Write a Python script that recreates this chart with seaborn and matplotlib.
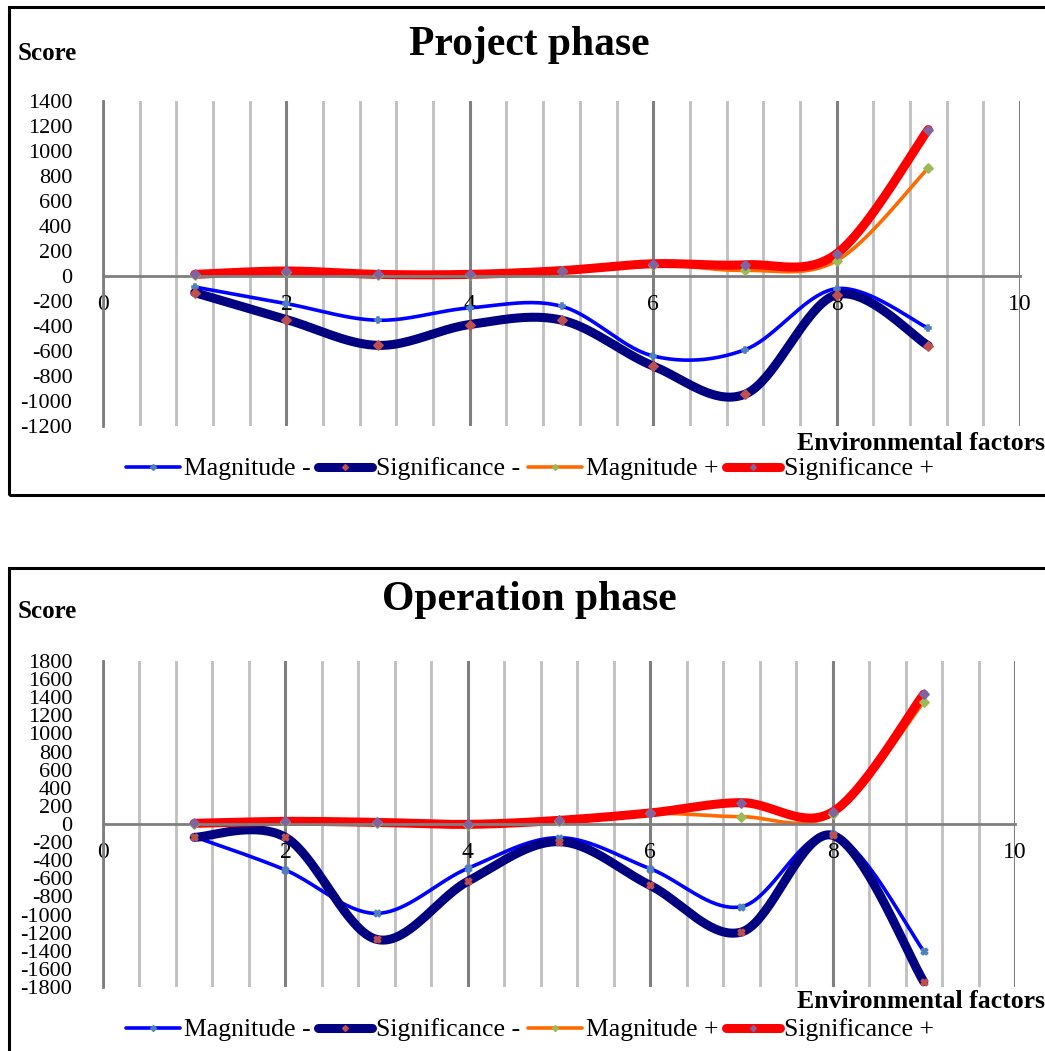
import numpy as np
import pandas as pd
import matplotlib
matplotlib.use("Agg")
import matplotlib.pyplot as plt
from matplotlib.lines import Line2D
from matplotlib.patches import Rectangle
from matplotlib.ticker import MultipleLocator
import seaborn as sns

# environmental factors 1..9
factors = [1, 2, 3, 4, 5, 6, 7, 8, 9]

# project phase
proj_mag_neg = [-88, -221, -354, -255, -242, -640, -590, -101, -417]
proj_sig_neg = [-133, -348, -555, -388, -353, -720, -946, -149, -558]
proj_mag_pos = [10, 35, 10, 10, 38, 92, 45, 122, 864]
proj_sig_pos = [13, 40, 13, 13, 43, 98, 90, 178, 1172]

# operation phase
oper_mag_neg = [-140, -508, -987, -490, -151, -494, -913, -114, -1403]
oper_sig_neg = [-147, -147, -1274, -633, -195, -678, -1193, -125, -1742]
oper_mag_pos = [5, 25, 15, -6, 38, 118, 81, 110, 1348]
oper_sig_pos = [7, 29, 18, -4, 40, 122, 236, 133, 1433]

series_names = ["Magnitude -", "Significance -", "Magnitude +", "Significance +"]
line_colors = ["#0000FF", "#000080", "#FF6A00", "#FF0000"]
line_widths = [2.6, 6.5, 2.6, 6.5]
marker_colors = ["#4F81BD", "#C0504D", "#9BBB59", "#8064A2"]

sns.set_theme(style="white")
plt.rcParams["font.family"] = ["Liberation Serif", "DejaVu Serif"]
plt.rcParams["axes.unicode_minus"] = False
plt.rcParams["text.color"] = "black"
plt.rcParams["xtick.color"] = "black"
plt.rcParams["ytick.color"] = "black"


def smooth(x, y, n=40):
    # excel-like smoothed line (catmull-rom bezier)
    p = np.column_stack([x, y]).astype(float)
    p_ext = np.vstack([p[0], p, p[-1]])
    out = []
    t = np.linspace(0, 1, n)[:, None]
    for i in range(len(p) - 1):
        p0, p1, p2, p3 = p_ext[i], p_ext[i + 1], p_ext[i + 2], p_ext[i + 3]
        c1 = p1 + (p2 - p0) / 6
        c2 = p2 - (p3 - p1) / 6
        seg = ((1 - t) ** 3) * p1 + 3 * ((1 - t) ** 2) * t * c1 + 3 * (1 - t) * t ** 2 * c2 + t ** 3 * p2
        out.append(seg if i == 0 else seg[1:])
    out = np.vstack(out)
    return pd.DataFrame({"x": out[:, 0], "y": out[:, 1]})


def draw_panel(ax, data, ylim, markers):
    for vals, col, lw in zip(data, line_colors, line_widths):
        sns.lineplot(data=smooth(factors, vals), x="x", y="y", sort=False,
                     estimator=None, color=col, linewidth=lw,
                     solid_capstyle="round", ax=ax)
    for vals, mc, mk in zip(data, marker_colors, markers):
        sns.scatterplot(x=factors, y=vals, color=mc, marker=mk, s=22,
                        linewidth=1.2, edgecolor=mc, ax=ax, zorder=5)

    ax.set_xlim(0, 10)
    ax.set_ylim(*ylim)
    ax.yaxis.set_major_locator(MultipleLocator(200))
    ax.xaxis.set_major_locator(MultipleLocator(2))
    ax.xaxis.set_minor_locator(MultipleLocator(0.4))
    ax.grid(axis="x", which="minor", color="#BFBFBF", linewidth=2)
    ax.grid(axis="x", which="major", color="#7F7F7F", linewidth=2.2)
    ax.grid(axis="y", visible=False)
    ax.set_axisbelow(True)
    for s in ["top", "right"]:
        ax.spines[s].set_visible(False)
    ax.spines["bottom"].set_position(("data", 0))
    ax.spines["bottom"].set_color("#7F7F7F")
    ax.spines["bottom"].set_linewidth(2)
    ax.spines["left"].set_color("#7F7F7F")
    ax.spines["left"].set_linewidth(2)
    ax.tick_params(axis="both", which="both", length=0)
    ax.tick_params(axis="x", pad=13, labelsize=17)
    ax.tick_params(axis="y", pad=22, labelsize=16)
    ax.set_xlabel("")
    ax.set_ylabel("")
    ax.patch.set_alpha(0)


fig = plt.figure(figsize=(10.45, 10.51), dpi=100)
W, H = 1045, 1051

# panel frames
fig.patches.append(Rectangle((9 / W, 1 - 495 / H), 1.2, 488 / H, transform=fig.transFigure,
                             fill=False, edgecolor="black", linewidth=2.2))
fig.patches.append(Rectangle((9 / W, -0.1), 1.2, 0.1 + 1 - 568 / H, transform=fig.transFigure,
                             fill=False, edgecolor="black", linewidth=2.2))

ax1 = fig.add_axes([103 / W, 1 - 426 / H, 917 / W, 325 / H])
draw_panel(ax1, [proj_mag_neg, proj_sig_neg, proj_mag_pos, proj_sig_pos],
           (-1200, 1400), ["P", "D", "D", "D"])

ax2 = fig.add_axes([103 / W, 1 - 987 / H, 912 / W, 326 / H])
draw_panel(ax2, [oper_mag_neg, oper_sig_neg, oper_mag_pos, oper_sig_pos],
           (-1800, 1800), ["X", "X", "D", "D"])

handles = [Line2D([0], [0], color=c, linewidth=lw, marker="D", markersize=3,
                  markerfacecolor=mc, markeredgecolor=mc, solid_capstyle="round")
           for c, lw, mc in zip(line_colors, line_widths, marker_colors)]

for title, ty, sy, ey, ly in [("Project phase", 45, 54, 443, 469),
                              ("Operation phase", 600, 612, 1001, 1030)]:
    fig.text(529 / W, 1 - ty / H, title, ha="center", va="center",
             fontsize=30, fontweight="bold")
    fig.text(18 / W, 1 - sy / H, "Score", ha="left", va="center",
             fontsize=18, fontweight="bold")
    fig.text(1045 / W, 1 - ey / H, "Environmental factors", ha="right", va="center",
             fontsize=18.5, fontweight="bold")
    fig.legend(handles, series_names, loc="center", bbox_to_anchor=(530 / W, 1 - ly / H),
               ncol=4, frameon=False, fontsize=18.5, handlelength=2.1, handletextpad=0.15,
               columnspacing=0.3, numpoints=1)

fig.savefig("out.png", dpi=100)
